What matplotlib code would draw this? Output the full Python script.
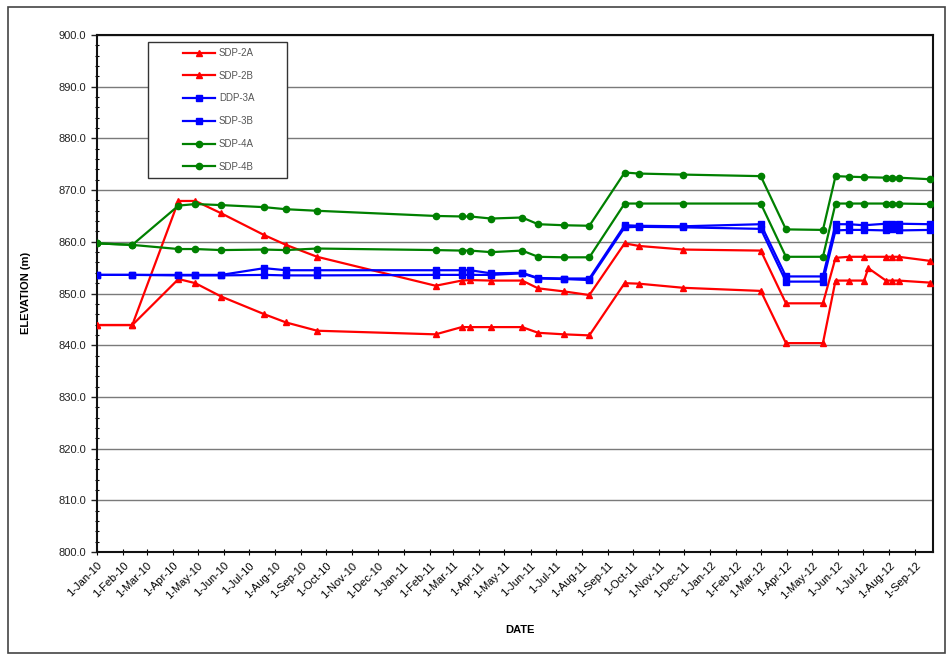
import matplotlib
matplotlib.use("Agg")
import matplotlib.pyplot as plt
import matplotlib.dates as mdates
from matplotlib.patches import Rectangle
from matplotlib.ticker import MultipleLocator, FuncFormatter
import numpy as np

plt.rcParams['font.family'] = ['Liberation Sans', 'DejaVu Sans']

# Survey dates shared by the monitoring wells
dates = ['2010-01-01', '2010-02-12', '2010-04-08', '2010-04-28', '2010-05-29',
         '2010-07-19', '2010-08-14', '2010-09-20', '2011-02-08', '2011-03-11',
         '2011-03-21', '2011-04-15', '2011-05-22', '2011-06-10', '2011-07-11',
         '2011-08-10', '2011-09-21', '2011-10-08', '2011-11-30', '2012-03-01',
         '2012-03-31', '2012-05-14', '2012-05-29', '2012-06-14', '2012-07-02',
         '2012-07-28', '2012-08-04', '2012-08-12', '2012-09-19']

# SDP-2A has one additional reading in July 2012
sdp2a_dates = dates[:25] + ['2012-07-07'] + dates[25:]
sdp2a = [843.9, 843.9, 852.8, 852.0, 849.4, 846.0, 844.4, 842.8, 842.1, 843.5,
         843.5, 843.5, 843.5, 842.4, 842.1, 841.9, 852.0, 851.9, 851.1, 850.5,
         840.4, 840.4, 852.5, 852.5, 852.5, 854.9, 852.5, 852.5, 852.5, 852.1]

sdp2b = [843.9, 843.9, 867.9, 867.9, 865.5, 861.3, 859.4, 857.1, 851.5, 852.5,
         852.6, 852.5, 852.5, 851.0, 850.4, 849.7, 859.7, 859.2, 858.5, 858.3,
         848.1, 848.1, 856.9, 857.1, 857.1, 857.1, 857.1, 857.1, 856.3]

ddp3a = [853.6, 853.6, 853.5, 853.5, 853.5, 853.6, 853.5, 853.5, 853.6, 853.6,
         853.6, 853.6, 853.9, 852.9, 852.8, 852.6, 862.8, 862.9, 862.8, 862.5,
         852.3, 852.3, 862.2, 862.3, 862.3, 862.2, 862.4, 862.2, 862.3]

sdp3b = [853.6, 853.6, 853.6, 853.6, 853.6, 854.9, 854.5, 854.5, 854.5, 854.5,
         854.5, 853.9, 854.0, 853.0, 852.9, 852.9, 863.2, 863.1, 863.0, 863.4,
         853.3, 853.3, 863.4, 863.4, 863.2, 863.5, 863.5, 863.5, 863.4]

sdp4a = [859.7, 859.4, 867.0, 867.3, 867.1, 866.7, 866.3, 866.0, 865.0, 864.9,
         864.9, 864.5, 864.7, 863.4, 863.2, 863.1, 873.4, 873.2, 873.0, 872.7,
         862.4, 862.3, 872.7, 872.6, 872.5, 872.4, 872.4, 872.4, 872.1]

sdp4b = [859.7, 859.4, 858.6, 858.6, 858.4, 858.5, 858.4, 858.7, 858.4, 858.3,
         858.3, 858.0, 858.3, 857.1, 857.0, 857.0, 867.4, 867.4, 867.4, 867.4,
         857.1, 857.1, 867.4, 867.4, 867.4, 867.4, 867.4, 867.4, 867.3]

series = [
    ('SDP-2A', sdp2a_dates, sdp2a, '#ff0000', '^'),
    ('SDP-2B', dates, sdp2b, '#ff0000', '^'),
    ('DDP-3A', dates, ddp3a, '#0000ff', 's'),
    ('SDP-3B', dates, sdp3b, '#0000ff', 's'),
    ('SDP-4A', dates, sdp4a, '#008000', 'o'),
    ('SDP-4B', dates, sdp4b, '#008000', 'o'),
]

W, H = 947, 656
fig = plt.figure(figsize=(W / 100, H / 100), dpi=100)
ax = fig.add_axes([97 / W, 1 - 552 / H, (933 - 97) / W, (552 - 35) / H])

for name, d, v, color, marker in series:
    ax.plot(np.array(d, dtype='datetime64[D]'), v, color=color, marker=marker,
            markersize=4.5, linewidth=1.6, label=name, zorder=3)

ax.set_ylim(800, 900)
ax.set_xlim(np.datetime64('2010-01-01'), np.datetime64('2012-09-22'))

ax.yaxis.set_major_locator(MultipleLocator(10))
ax.yaxis.set_minor_locator(MultipleLocator(2))
ax.yaxis.set_major_formatter(FuncFormatter(lambda v, p: f"{v:.1f}"))
ax.grid(axis='y', which='major', color='#7a7a7a', linewidth=1.0, zorder=1)

ax.xaxis.set_major_locator(mdates.MonthLocator())
ax.xaxis.set_major_formatter(FuncFormatter(
    lambda x, p: (lambda d: f"{d.day}-{d.strftime('%b-%y')}")(mdates.num2date(x))))

ax.tick_params(axis='y', which='major', direction='out', length=4, width=1,
               labelsize=8, colors='#222222', pad=4)
ax.tick_params(axis='y', which='minor', direction='inout', length=3, width=0.8)
ax.tick_params(axis='x', which='major', direction='inout', length=4, width=0.8,
               labelsize=8, pad=4)
for lbl in ax.get_xticklabels():
    lbl.set_rotation(45)
    lbl.set_ha('right')
    lbl.set_rotation_mode('anchor')

for s in ax.spines.values():
    s.set_linewidth(1.5)
    s.set_color('#111111')

fig.text(520 / W, 1 - 630 / H, 'DATE', fontsize=8, fontweight='bold',
         ha='center', va='center')
fig.text(26 / W, 1 - 293 / H, 'ELEVATION (m)', fontsize=8, fontweight='bold',
         ha='center', va='center', rotation=90)

# Legend box, drawn above the data lines but below the legend entries
ax.add_patch(Rectangle((148 / W, 1 - 178 / H), (287 - 148) / W, (178 - 42) / H,
                       transform=fig.transFigure, facecolor='white',
                       edgecolor='#333333', linewidth=1.0, zorder=4,
                       clip_on=False))

leg = ax.legend(loc='upper left', bbox_to_anchor=(183 / W, 1 - 48 / H),
                bbox_transform=fig.transFigure, fontsize=7, frameon=False,
                labelspacing=1.31, handlelength=3.3, handletextpad=0.4,
                borderpad=0, borderaxespad=0, numpoints=1)
leg.set_zorder(5)
for t in leg.get_texts():
    t.set_color('#555555')

fig.patches.append(Rectangle((8 / W, 1 - 653 / H), (945 - 8) / W, (653 - 7) / H,
                             transform=fig.transFigure, fill=False,
                             edgecolor='#444444', linewidth=1.2))

fig.savefig('out.png', dpi=100)
